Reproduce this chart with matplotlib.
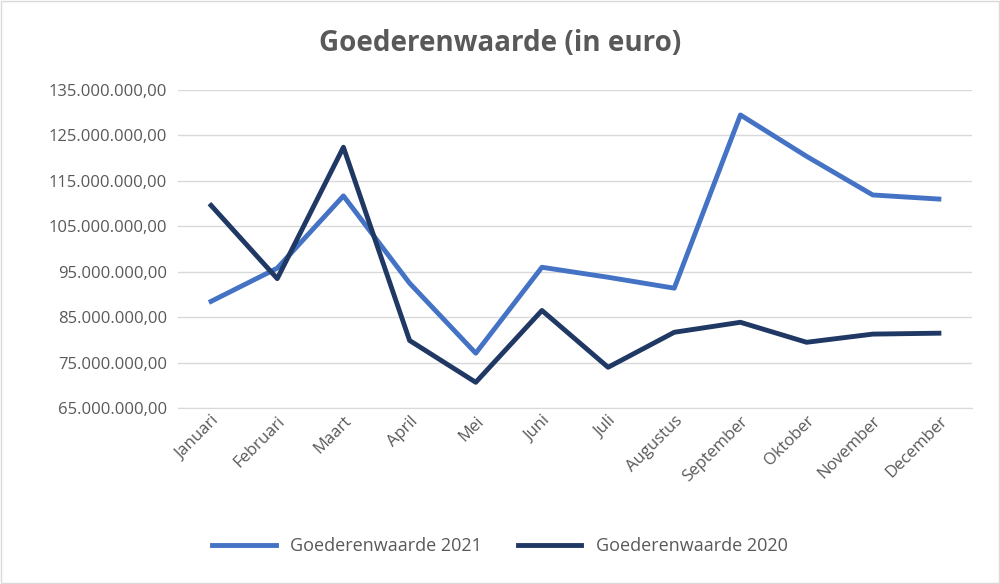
import matplotlib
matplotlib.use("Agg")
import matplotlib.pyplot as plt
from matplotlib.ticker import FuncFormatter, MultipleLocator

months = ["Januari","Februari","Maart","April","Mei","Juni","Juli","Augustus",
          "September","Oktober","November","December"]
waarde_2021 = [88.5, 95.8, 111.7, 92.5, 77.1, 96.0, 93.8, 91.4, 129.5, 120.4, 111.9, 111.0]
waarde_2020 = [109.6, 93.5, 122.4, 79.9, 70.7, 86.5, 74.0, 81.7, 83.9, 79.5, 81.3, 81.5]

plt.rcParams["font.family"] = "Open Sans"
fig = plt.figure(figsize=(10, 5.84), dpi=100)
ax = fig.add_axes([0.178, 0.301, 0.794, 0.545])
x = range(len(months))
ax.plot(x, [v*1e6 for v in waarde_2021], color="#4472C4", lw=3.5, label="Goederenwaarde 2021")
ax.plot(x, [v*1e6 for v in waarde_2020], color="#203864", lw=3.5, label="Goederenwaarde 2020")
ax.set_ylim(65e6, 135e6)
ax.set_xlim(-0.5, len(months)-0.5)
ax.yaxis.set_major_locator(MultipleLocator(10e6))
ax.set_yticks([65e6+i*10e6 for i in range(8)])
def fmt(v, p):
    s = f"{int(round(v)):,}".replace(",", ".")
    return s + ",00"
ax.yaxis.set_major_formatter(FuncFormatter(fmt))
ax.set_xticks(list(x))
ax.set_xticklabels(months, rotation=45, ha="right", rotation_mode="anchor")
ax.grid(axis="y", color="#D9D9D9", lw=1)
ax.set_axisbelow(True)
for s in ["top", "right", "left"]:
    ax.spines[s].set_visible(False)
ax.spines["bottom"].set_color("#D9D9D9")
ax.tick_params(length=0, colors="#595959", labelsize=12)
ax.tick_params(axis="y", pad=8)
fig.text(0.5, 0.925, "Goederenwaarde (in euro)", ha="center", va="center",
         fontsize=20, fontweight="bold", color="#595959")
fig.legend(loc="center", bbox_to_anchor=(0.5, 0.065), ncol=2, frameon=False,
           fontsize=13, labelcolor="#595959", handlelength=3.5, columnspacing=2)
fig.patches.append(plt.Rectangle((0.001, 0.001), 0.998, 0.998, transform=fig.transFigure,
                                 fill=False, edgecolor="#D9D9D9", lw=1))
fig.savefig("out.png", dpi=100)
